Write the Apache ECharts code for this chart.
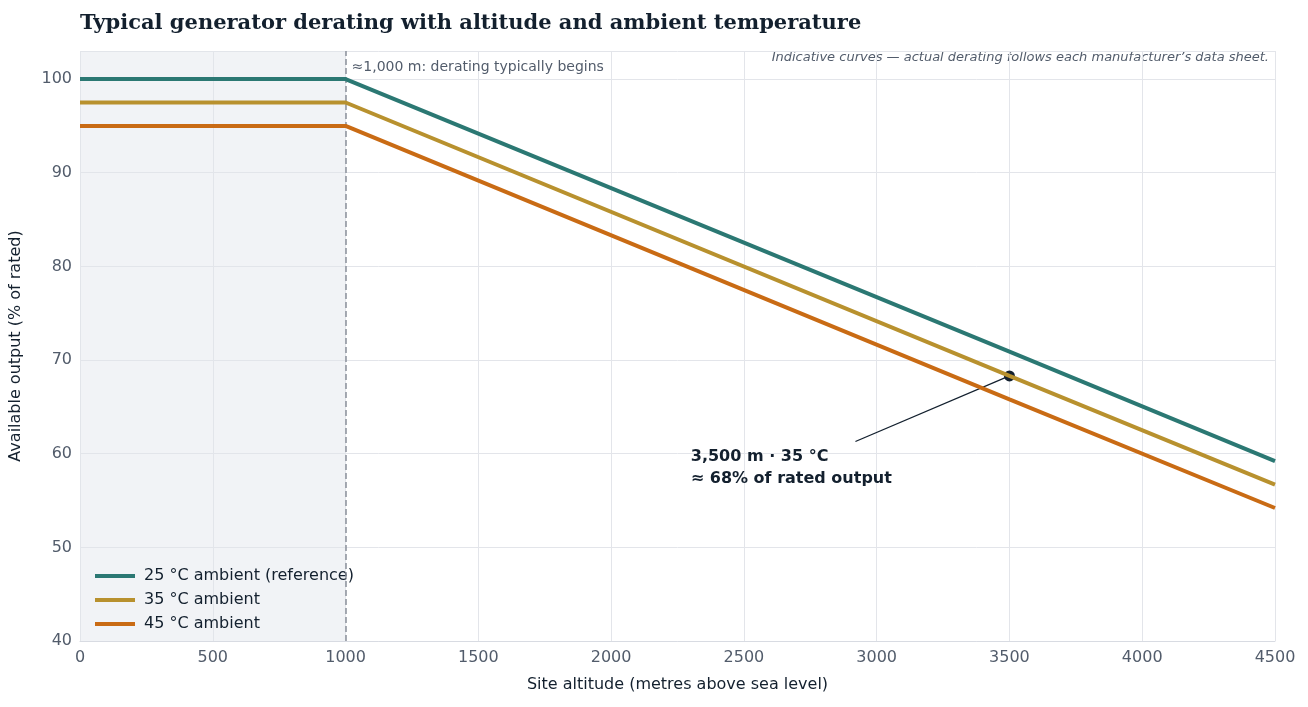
<!DOCTYPE html>
<html><head><meta charset="utf-8">
<script src="https://cdn.jsdelivr.net/npm/echarts@6/dist/echarts.min.js"></script>
<style>html,body{margin:0;padding:0;background:#fff}#main{width:1308px;height:707px}</style>
</head><body><div id="main"></div>
<script>
// altitude breakpoints (m)
var altitudes = [0, 1000, 3500, 4500];
var out25 = [100, 100, 70.9, 59.2];
var out35 = [97.5, 97.5, 68.3, 56.7];
var out45 = [95, 95, 65.8, 54.2];
var names = ['25 °C ambient (reference)', '35 °C ambient', '45 °C ambient'];
var colors = ['#2b7873', '#b8912e', '#c96b14'];
var callout = [3500, 68.3];

function pairs(v) { return altitudes.map(function (a, i) { return [a, v[i]]; }); }

var chart = echarts.init(document.getElementById('main'));
var font = 'DejaVu Sans';
chart.setOption({
	animation: false,
	textStyle: { fontFamily: font },
	title: {
		text: 'Typical generator derating with altitude and ambient temperature',
		left: 75, top: 8,
		textStyle: { fontFamily: 'DejaVu Serif', fontSize: 21, fontWeight: 'bold', color: '#13202e' }
	},
	graphic: [{
		type: 'text', right: 39, top: 51,
		style: { text: 'Indicative curves — actual derating follows each manufacturer’s data sheet.', font: 'italic 13px DejaVu Sans', fill: '#525c6b' }
	}],
	legend: {
		left: 90, bottom: 70, orient: 'vertical', itemGap: 8,
		itemWidth: 40, itemHeight: 4,
		textStyle: { fontSize: 16, color: '#13202e', padding: [0, 0, 0, 4] },
		data: names.map(function (n, i) { return { name: n, icon: 'rect', itemStyle: { color: colors[i] } }; })
	},
	grid: { left: 80, right: 33, top: 51, bottom: 66 },
	xAxis: {
		type: 'value', min: 0, max: 4500, interval: 500,
		name: 'Site altitude (metres above sea level)', nameLocation: 'middle', nameGap: 36,
		nameTextStyle: { fontSize: 16, color: '#13202e' },
		axisLine: { lineStyle: { color: '#d8dbe2' } }, axisTick: { show: false },
		axisLabel: { fontSize: 16, color: '#525c6b', margin: 9, formatter: function (v) { return String(v); } },
		splitLine: { show: true, lineStyle: { color: '#e3e5ea' } }
	},
	yAxis: {
		type: 'value', min: 40, max: 103, interval: 10,
		name: 'Available output (% of rated)', nameLocation: 'middle', nameGap: 56,
		nameTextStyle: { fontSize: 16, color: '#13202e' },
		axisLine: { show: false }, axisTick: { show: false },
		axisLabel: { fontSize: 16, color: '#525c6b', showMaxLabel: false },
		splitLine: { lineStyle: { color: '#e3e5ea' } }
	},
	series: [
		{ name: names[0], type: 'line', data: pairs(out25), symbol: 'none', lineStyle: { width: 4, color: colors[0] }, z: 5,
		  markArea: { silent: true, itemStyle: { color: 'rgba(225,229,236,0.45)' }, data: [[{ xAxis: 0 }, { xAxis: 1000 }]] },
		  markLine: { silent: true, symbol: 'none',
			lineStyle: { type: 'dashed', color: '#8a909a', width: 1.5 },
			label: { show: false },
			data: [{ xAxis: 1000 }] },
		  markPoint: { symbolSize: 0,
			data: [{ coord: [1000, 101.3],
				label: { show: true, position: 'right', distance: 6, formatter: '≈1,000 m: derating typically begins', color: '#525c6b', fontSize: 14 } }] } },
		{ name: names[1], type: 'line', data: pairs(out35), symbol: 'none', lineStyle: { width: 4, color: colors[1] }, z: 5,
		  markLine: { silent: true, symbol: ['none', 'none'], lineStyle: { type: 'solid', color: '#13202e', width: 1.3 }, label: { show: false },
			data: [[{ coord: [2920, 61.3] }, { coord: callout }]] },
		  markPoint: { symbol: 'circle', symbolSize: 11, itemStyle: { color: '#13202e' },
			data: [{ coord: callout, label: { show: false } },
			  { coord: [2300, 58.5], symbolSize: 0,
				label: { show: true, position: 'right', distance: 0, align: 'left', formatter: '3,500 m · 35 °C\n≈ 68% of rated output', fontSize: 16, fontWeight: 'bold', color: '#13202e', lineHeight: 22 } }] } },
		{ name: names[2], type: 'line', data: pairs(out45), symbol: 'none', lineStyle: { width: 4, color: colors[2] }, z: 5 }
	]
});
</script></body></html>
